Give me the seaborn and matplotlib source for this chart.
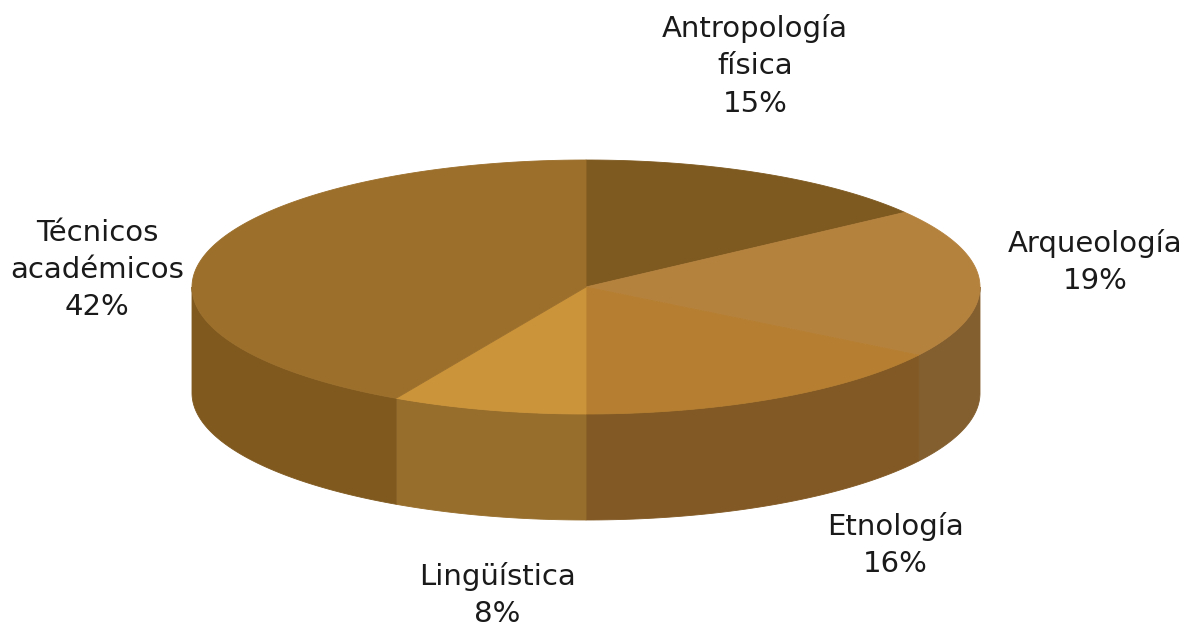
import numpy as np
import matplotlib
matplotlib.use("Agg")
import matplotlib.pyplot as plt
import seaborn as sns

sns.set_theme(style="white")
plt.rcParams['font.family'] = ['DejaVu Sans']

# data
categories = ['Antropología\nfísica', 'Arqueología', 'Etnología', 'Lingüística', 'Técnicos\nacadémicos']
values = [15, 19, 16, 8, 42]
top_colors = ['#7f5a20', '#b5823e', '#b57e30', '#cc943a', '#9c6f2b']
side_colors = ['#7c571f', '#835e2e', '#825924', '#976e2c', '#80591f']
label_xy = [(755, 66), (1095, 262), (895, 545), (497, 595), (97, 270)]

# geometry of the disc (pixel units)
cx, cy, rx, ry, depth = 586, 287, 394, 127, 106

fig = plt.figure(figsize=(11.91, 6.27), dpi=100)
ax = fig.add_axes([0, 0, 1, 1])
ax.set_xlim(0, 1191)
ax.set_ylim(627, 0)
ax.axis('off')

fracs = np.array(values) / np.sum(values)
edges = 90 - 360 * np.concatenate([[0], np.cumsum(fracs)])

def ex(t):
    return cx + rx * np.cos(np.radians(t))

def ey(t):
    return cy - ry * np.sin(np.radians(t))

# side walls (only the front half, angles between 180 and 360)
for i in range(len(values)):
    a0, a1 = edges[i + 1], edges[i]
    a0m, a1m = a0 % 360, a0 % 360 + (a1 - a0)
    for shift in (0, -360, 360):
        lo = max(a0m + shift, 180)
        hi = min(a1m + shift, 360)
        if hi > lo:
            t = np.linspace(lo, hi, 100)
            xs = np.concatenate([ex(t), ex(t[::-1])])
            ys = np.concatenate([ey(t), ey(t[::-1]) + depth])
            ax.fill(xs, ys, facecolor=side_colors[i], edgecolor=side_colors[i], lw=0.6)

# top faces
for i in range(len(values)):
    t = np.linspace(edges[i], edges[i + 1], 200)
    xs = np.concatenate([[cx], ex(t)])
    ys = np.concatenate([[cy], ey(t)])
    ax.fill(xs, ys, facecolor=top_colors[i], edgecolor=top_colors[i], lw=0.6)

for i, (lx, ly) in enumerate(label_xy):
    ax.text(lx, ly, f"{categories[i]}\n{values[i]}%", ha='center', va='center',
            fontsize=21, color='#1a1a1a', linespacing=1.41)

fig.savefig('out.png', dpi=100)
